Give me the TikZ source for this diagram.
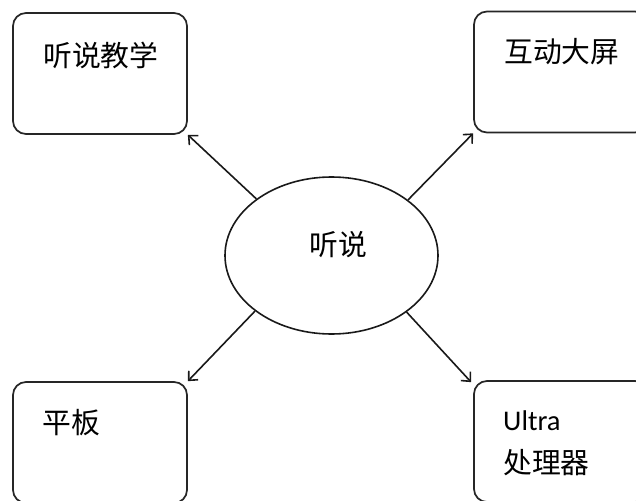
\documentclass[tikz,border=0pt]{standalone}
\usepackage{fontspec}
\setmainfont{Carlito}
\newfontfamily\cjk{Noto Sans CJK SC}
\usetikzlibrary{arrows.meta,shapes.geometric,calc}
\begin{document}
\begin{tikzpicture}[x=1pt,y=-1pt,
  box/.style={draw=black!85,line width=1.7pt,rounded corners=13pt,minimum width=174pt,minimum height=121pt,inner sep=0pt},
  lbl/.style={anchor=west,inner sep=0pt,font=\fontsize{28.8}{32}\selectfont\cjk},
  latin/.style={anchor=west,inner sep=0pt,font=\fontsize{28.5}{32}\selectfont},
  conn/.style={draw=black!90,line width=1.6pt,-{Straight Barb[length=7pt,width=13pt,line width=1.6pt]}}]
\clip (0,0) rectangle (636,500);
\fill[white] (0,0) rectangle (636,500);
% boxes
\node[box] (tl) at (100,73.5) {};
\node[box] (tr) at (561,72) {};
\node[box] (bl) at (100,442.5) {};
\node[box] (br) at (561,441.5) {};
% ellipse
\node[draw=black!90,line width=1.6pt,ellipse,minimum width=213pt,minimum height=157pt,inner sep=0pt] (c) at (331.5,255.5) {};
\node[lbl,anchor=center] (ct) at (338.5,244.5) {听说};
% texts
\node[lbl] (tlt) at (43,55) {听说教学};
\node[lbl] (trt) at (504,52) {互动大屏};
\node[lbl] (blt) at (42,423) {平板};
\node[latin] (brt1) at (503,421) {Ultra};
\node[lbl] (brt2) at (503,463) {处理器};
% connectors
\draw[conn] (c.143.7) -- (tl.south east);
\draw[conn] (c.36) -- (tr.south west);
\draw[conn] (c.216.8) -- (bl.north east);
\draw[conn] (c.323.5) -- ($(br.north west)+(-2,2)$);
\end{tikzpicture}
\end{document}
